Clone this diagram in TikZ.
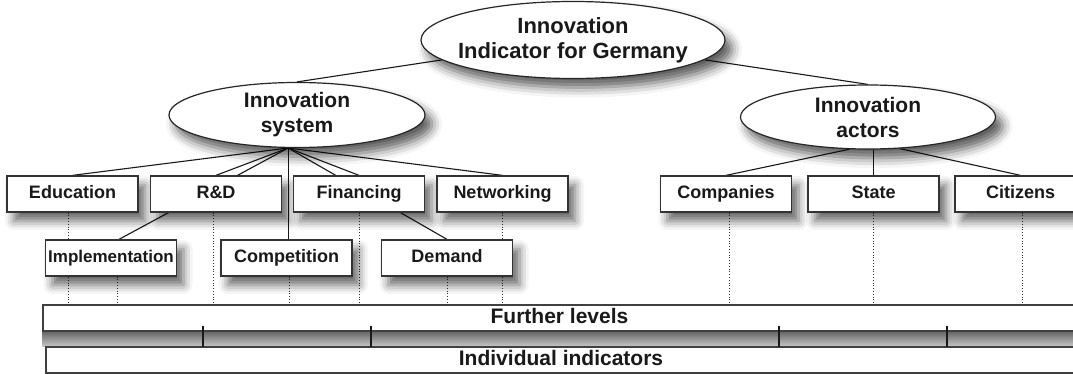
\documentclass[tikz,border=0pt]{standalone}
\usepackage{fontspec}
\setmainfont{Liberation Sans}
\usepackage{tikz}
\usetikzlibrary{
  shapes.geometric,
  shadows.blur,
  backgrounds
}

\begin{document}
\begin{tikzpicture}[x=1pt,y=-1pt,
    area/.style={ellipse,draw=black!85,fill=white,line width=1.2pt,inner sep=0pt,align=center,
      text=black!90,font=\fontsize{21}{25}\selectfont\bfseries,
      blur shadow={shadow xshift=7pt,shadow yshift=-9pt,shadow blur radius=10pt,shadow opacity=65}},
    field/.style={rectangle,draw=black!80,fill=white,line width=1.3pt,minimum width=131pt,
      minimum height=36pt,inner sep=0pt,text height=13pt,text depth=4pt,
      text=black!90,font=\fontsize{18}{20}\selectfont\bfseries,
      blur shadow={shadow xshift=7pt,shadow yshift=-9pt,shadow blur radius=9pt,shadow opacity=60}},
    layer/.style={rectangle,draw=black!75,fill=white,line width=1.2pt,minimum height=26pt,
      inner sep=0pt,text height=15pt,text depth=4pt,text=black!90,font=\fontsize{21}{24}\selectfont\bfseries},
    link/.style={line width=1.1pt,black!90},
    drop/.style={dotted,line width=0.8pt,black!80},
    divider/.style={line width=2pt,black!90}]
  \clip (0,0) rectangle (1073,374);

  \node[area,minimum width=304pt,minimum height=77pt,inner xsep=-12pt,
        font=\fontsize{22}{25}\selectfont\bfseries] (top) at (573,40) {Innovation\\Indicator for Germany};
  \node[area,minimum width=256pt,minimum height=65pt] (sys) at (297,115) {Innovation\\system};
  \node[area,minimum width=255pt,minimum height=64pt] (act) at (868,117) {Innovation\\actors};

  \node[field] (edu) at (72.5,194) {Education};
  \node[field] (rd) at (216,194) {R\&D};
  \node[field] (fin) at (359,194) {Financing};
  \node[field] (net) at (502.5,194) {Networking};
  \node[field] (firms) at (726,194) {Companies};
  \node[field] (state) at (873.5,194) {State};
  \node[field] (cit) at (1020.5,194) {Citizens};

  \node[field,font=\fontsize{17}{20}\selectfont\bfseries] (impl) at (111,258) {Implementation};
  \node[field] (compet) at (286.5,258) {Competition};
  \node[field] (dem) at (447,258) {Demand};

  \node[layer,minimum width=1033pt] (further) at (559.5,318) {Further levels};
  \node[layer,minimum width=1030pt] (single) at (561,360) {Individual indicators};

  \foreach \x in {203,371,779,947}
    \draw[divider] (\x,326) -- (\x,347);

  \begin{scope}[on background layer]
    \fill[top color=black!60,bottom color=black!22] (further.south west) rectangle (single.north east);

    \draw[link] (top) -- (sys.north);
    \draw[link] (top) -- (act.north);

    \draw[link] (sys.255) -- (edu.north);
    \draw[link] (sys.255) -- (rd.north);
    \draw[link] (sys.255) -- ([xshift=8pt]impl.north);
    \draw[link] (sys.255) -- (sys.255 |- compet.north);
    \draw[link] (sys.255) -- (fin.north);
    \draw[link] (sys.255) -- (dem.north);
    \draw[link] (sys.255) -- (net.north);

    \draw[link] (act.240) -- (firms.north);
    \draw[link] (state.north |- act.south) -- (state.north);
    \draw[link] (act.315) -- (cit.north);

    \foreach \n/\dx in {edu/-4.5,impl/6,rd/-3,compet/2.5,fin/0,dem/0,net/0,firms/3,state/0,cit/1.5}
      \draw[drop] ([xshift=\dx pt]\n.south) -- ([xshift=\dx pt]\n.south |- further.north);
  \end{scope}
\end{tikzpicture}
\end{document}
